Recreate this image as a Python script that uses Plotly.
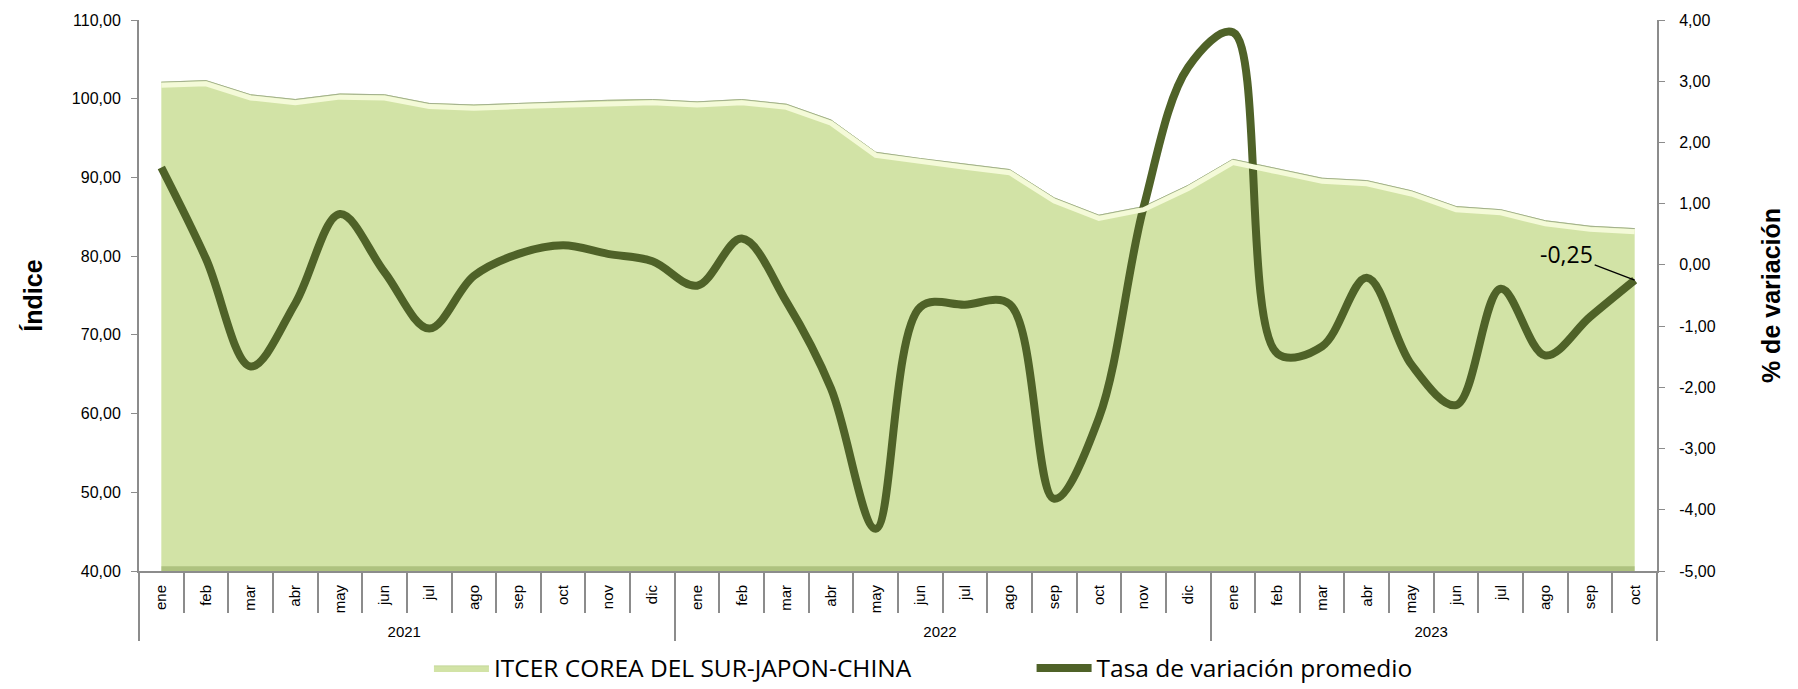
import plotly.graph_objects as go

# Periods (two-level category axis: year / month)
years = ["2021"] * 12 + ["2022"] * 12 + ["2023"] * 10
months = (["ene", "feb", "mar", "abr", "may", "jun", "jul", "ago", "sep", "oct", "nov", "dic"] * 2
          + ["ene", "feb", "mar", "abr", "may", "jun", "jul", "ago", "sep", "oct"])

# ITCER Corea del Sur-Japón-China (índice)
itcer = [102.1, 102.3, 100.5, 99.9, 100.6, 100.5, 99.4, 99.2, 99.4, 99.6, 99.8, 99.9,
         99.6, 99.9, 99.3, 97.3, 93.2, 92.4, 91.7, 91.0, 87.4, 85.2, 86.3, 89.0,
         92.3, 91.1, 89.9, 89.6, 88.3, 86.3, 85.9, 84.5, 83.8, 83.5]

# Tasa de variación promedio (%)
tasa = [1.59, 0.10, -1.66, -0.63, 0.83, -0.12, -1.04, -0.18, 0.18, 0.32, 0.18, 0.06,
        -0.34, 0.43, -0.60, -2.02, -4.31, -0.69, -0.65, -0.64, -3.82, -2.50, 0.94, 3.23,
        3.80, -1.45, -1.33, -0.21, -1.63, -2.29, -0.39, -1.48, -0.85, -0.25]

# Right-axis ticks (% de variación)
tasa_ticks = [-5, -4, -3, -2, -1, 0, 1, 2, 3, 4]

AREA_FILL = "#D2E3A6"
AREA_EDGE = "#F4FAD8"
LINE_COLOR = "#4F6228"
AXIS_GREY = "#8C8C8C"
SANS = "Liberation Sans, Arial"
LEGEND_FONT = "Open Sans, Noto Sans, Liberation Sans"

IDX_RANGE = [40, 110]
BEVEL_SHIFT = 0.4   # bevel band sits a few pixels inside the area's top edge


def es_num(v):
    """Spanish-style number with two decimals and an ASCII hyphen for negatives."""
    return f"{v:.2f}".replace(".", ",")


x = [years, months]
n = len(months)

fig = go.Figure()

fig.add_trace(go.Scatter(
    x=x, y=itcer, name="ITCER COREA DEL SUR-JAPON-CHINA",
    mode="lines", fill="tozeroy", fillcolor=AREA_FILL,
    line=dict(color="#C4D79A", width=1), legend="legend",
))
# light bevel just inside the top of the area
fig.add_trace(go.Scatter(
    x=x, y=itcer, mode="lines", showlegend=False, hoverinfo="skip", yaxis="y3",
    line=dict(color=AREA_EDGE, width=5),
))
fig.add_trace(go.Scatter(
    x=x, y=itcer, mode="lines", showlegend=False, hoverinfo="skip",
    line=dict(color="#A3B08F", width=1),
))

fig.add_trace(go.Scatter(
    x=x, y=tasa, name="Tasa de variación promedio", yaxis="y2",
    mode="lines", line=dict(color=LINE_COLOR, width=8, shape="spline", smoothing=1.0),
    legend="legend2",
))

# soft shadow along the base of the area
fig.add_shape(
    type="rect", xref="x", yref="y", layer="above",
    x0=0, x1=n - 1, y0=IDX_RANGE[0], y1=IDX_RANGE[0] + 0.6,
    fillcolor="rgba(120,145,70,0.40)", line=dict(width=0),
)

last_val = tasa[-1]
fig.add_annotation(
    x=n - 1, y=last_val, xref="x", yref="y2",
    text=es_num(last_val),
    showarrow=True, arrowhead=0, arrowwidth=1.3, arrowcolor="#000000",
    ax=-68, ay=-26, standoff=0,
    font=dict(family=LEGEND_FONT, size=23, color="#000000"),
)

legend_common = dict(
    yanchor="middle", xanchor="left", orientation="h", itemwidth=55,
    font=dict(family=LEGEND_FONT, size=24.5, color="#000000"),
    bgcolor="rgba(0,0,0,0)",
)

fig.update_layout(
    width=1798, height=689,
    margin=dict(l=139, r=141, t=20, b=118, autoexpand=False),
    paper_bgcolor="white", plot_bgcolor="white",
    separators=",.",
    showlegend=True,
    legend=dict(x=0.191, y=-0.176, **legend_common),
    legend2=dict(x=0.588, y=-0.176, **legend_common),
    xaxis=dict(
        type="multicategory", range=[-0.5, n - 0.5], automargin=False,
        showline=True, linecolor=AXIS_GREY, linewidth=2,
        ticks="outside", tickson="boundaries", ticklen=40, tickcolor=AXIS_GREY, tickwidth=1.5,
        tickangle=-90, ticklabelstandoff=6,
        tickfont=dict(family=SANS, size=15, color="#000000"),
        showdividers=True, dividercolor=AXIS_GREY, dividerwidth=1.5,
        showgrid=False, zeroline=False,
    ),
    yaxis=dict(
        range=IDX_RANGE, dtick=10, tickformat=".2f", automargin=False,
        showline=True, linecolor=AXIS_GREY, linewidth=2,
        ticks="outside", ticklen=6, tickcolor=AXIS_GREY, ticklabelstandoff=7,
        tickfont=dict(family=SANS, size=16, color="#000000"),
        showgrid=False, zeroline=False,
        title=dict(text="Índice", font=dict(family=SANS, size=25, weight="bold", color="#000000"),
                   standoff=22),
    ),
    yaxis2=dict(
        range=[tasa_ticks[0], tasa_ticks[-1]],
        tickmode="array", tickvals=tasa_ticks, ticktext=[es_num(v) for v in tasa_ticks],
        automargin=False, overlaying="y", side="right",
        showline=True, linecolor=AXIS_GREY, linewidth=2,
        ticks="outside", ticklen=6, tickcolor=AXIS_GREY, ticklabelstandoff=11,
        tickfont=dict(family=SANS, size=16, color="#000000"),
        showgrid=False, zeroline=False,
        title=dict(text="% de variación", font=dict(family=SANS, size=25, weight="bold", color="#000000"),
                   standoff=48),
    ),
    yaxis3=dict(
        range=[IDX_RANGE[0] + BEVEL_SHIFT, IDX_RANGE[1] + BEVEL_SHIFT],
        overlaying="y", visible=False, automargin=False,
    ),
)

fig.write_html("out.html")
